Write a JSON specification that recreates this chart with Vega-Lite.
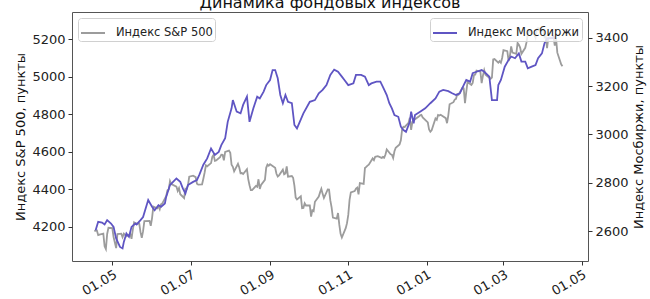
{
"$schema": "https://vega.github.io/schema/vega-lite/v6.json",
"width": 516, "height": 249,
"autosize": {"type": "none"},
"padding": {"left": 72, "top": 12, "right": 62, "bottom": 38},
"background": "white",
"title": {"text": "Динамика фондовых индексов", "fontSize": 16, "font": "DejaVu Sans", "fontWeight": "normal", "color": "#111", "offset": 1, "anchor": "middle"},
"config": {
 "view": {"stroke": "#555", "strokeWidth": 1},
 "axis": {"grid": false, "domain": false, "labelFont": "DejaVu Sans", "labelFontSize": 13, "labelColor": "#222", "tickColor": "#333", "tickSize": 4, "titleFont": "DejaVu Sans", "titleFontSize": 13, "titleFontWeight": "normal", "titleColor": "#111"},
 "legend": {"labelFont": "DejaVu Sans", "labelFontSize": 11.5, "labelColor": "#222", "padding": 2, "fillColor": "rgba(255,255,255,0.8)", "strokeColor": "#d0d0d0", "cornerRadius": 3, "offset": 6, "symbolType": "stroke", "symbolSize": 576, "symbolStrokeWidth": 2, "labelOffset": 10, "title": null}
},
"datasets": {
"sp": [
{"date":"2023-04-17","value":4175},{"date":"2023-04-18","value":4178},{"date":"2023-04-19","value":4179},{"date":"2023-04-20","value":4154},{"date":"2023-04-21","value":4157},{"date":"2023-04-24","value":4162},{"date":"2023-04-25","value":4095},{"date":"2023-04-26","value":4080},{"date":"2023-04-27","value":4160},{"date":"2023-04-28","value":4193},
{"date":"2023-05-01","value":4191},{"date":"2023-05-02","value":4144},{"date":"2023-05-03","value":4115},{"date":"2023-05-04","value":4085},{"date":"2023-05-05","value":4160},{"date":"2023-05-08","value":4162},{"date":"2023-05-09","value":4143},{"date":"2023-05-10","value":4162},{"date":"2023-05-11","value":4155},{"date":"2023-05-12","value":4148},{"date":"2023-05-15","value":4160},{"date":"2023-05-16","value":4134},{"date":"2023-05-17","value":4183},{"date":"2023-05-18","value":4222},{"date":"2023-05-19","value":4216},{"date":"2023-05-22","value":4216},{"date":"2023-05-23","value":4170},{"date":"2023-05-24","value":4140},{"date":"2023-05-25","value":4175},{"date":"2023-05-26","value":4229},{"date":"2023-05-30","value":4230},{"date":"2023-05-31","value":4204},
{"date":"2023-06-01","value":4245},{"date":"2023-06-02","value":4306},{"date":"2023-06-05","value":4297},{"date":"2023-06-06","value":4308},{"date":"2023-06-07","value":4292},{"date":"2023-06-08","value":4318},{"date":"2023-06-09","value":4323},{"date":"2023-06-12","value":4362},{"date":"2023-06-13","value":4393},{"date":"2023-06-14","value":4397},{"date":"2023-06-15","value":4442},{"date":"2023-06-16","value":4426},{"date":"2023-06-20","value":4413},{"date":"2023-06-21","value":4390},{"date":"2023-06-22","value":4405},{"date":"2023-06-23","value":4372},{"date":"2023-06-26","value":4352},{"date":"2023-06-27","value":4402},{"date":"2023-06-28","value":4400},{"date":"2023-06-29","value":4420},{"date":"2023-06-30","value":4466},
{"date":"2023-07-03","value":4471},{"date":"2023-07-05","value":4463},{"date":"2023-07-06","value":4428},{"date":"2023-07-07","value":4423},{"date":"2023-07-10","value":4425},{"date":"2023-07-11","value":4455},{"date":"2023-07-12","value":4488},{"date":"2023-07-13","value":4526},{"date":"2023-07-14","value":4521},{"date":"2023-07-17","value":4538},{"date":"2023-07-18","value":4571},{"date":"2023-07-19","value":4582},{"date":"2023-07-20","value":4550},{"date":"2023-07-21","value":4552},{"date":"2023-07-24","value":4570},{"date":"2023-07-25","value":4583},{"date":"2023-07-26","value":4582},{"date":"2023-07-27","value":4553},{"date":"2023-07-28","value":4598},{"date":"2023-07-31","value":4605},
{"date":"2023-08-01","value":4593},{"date":"2023-08-02","value":4529},{"date":"2023-08-03","value":4518},{"date":"2023-08-04","value":4494},{"date":"2023-08-07","value":4534},{"date":"2023-08-08","value":4515},{"date":"2023-08-09","value":4484},{"date":"2023-08-10","value":4485},{"date":"2023-08-11","value":4480},{"date":"2023-08-14","value":4506},{"date":"2023-08-15","value":4453},{"date":"2023-08-16","value":4420},{"date":"2023-08-17","value":4394},{"date":"2023-08-18","value":4394},{"date":"2023-08-21","value":4416},{"date":"2023-08-22","value":4412},{"date":"2023-08-23","value":4452},{"date":"2023-08-24","value":4400},{"date":"2023-08-25","value":4422},{"date":"2023-08-28","value":4449},{"date":"2023-08-29","value":4513},{"date":"2023-08-30","value":4530},{"date":"2023-08-31","value":4524},
{"date":"2023-09-01","value":4532},{"date":"2023-09-05","value":4513},{"date":"2023-09-06","value":4481},{"date":"2023-09-07","value":4467},{"date":"2023-09-08","value":4473},{"date":"2023-09-11","value":4503},{"date":"2023-09-12","value":4478},{"date":"2023-09-13","value":4483},{"date":"2023-09-14","value":4521},{"date":"2023-09-15","value":4466},{"date":"2023-09-18","value":4469},{"date":"2023-09-19","value":4460},{"date":"2023-09-20","value":4418},{"date":"2023-09-21","value":4354},{"date":"2023-09-22","value":4344},{"date":"2023-09-25","value":4361},{"date":"2023-09-26","value":4298},{"date":"2023-09-27","value":4299},{"date":"2023-09-28","value":4324},{"date":"2023-09-29","value":4312},
{"date":"2023-10-02","value":4312},{"date":"2023-10-03","value":4253},{"date":"2023-10-04","value":4287},{"date":"2023-10-05","value":4282},{"date":"2023-10-06","value":4332},{"date":"2023-10-09","value":4360},{"date":"2023-10-10","value":4382},{"date":"2023-10-11","value":4401},{"date":"2023-10-12","value":4374},{"date":"2023-10-13","value":4352},{"date":"2023-10-16","value":4398},{"date":"2023-10-17","value":4397},{"date":"2023-10-18","value":4339},{"date":"2023-10-19","value":4302},{"date":"2023-10-20","value":4248},{"date":"2023-10-23","value":4242},{"date":"2023-10-24","value":4272},{"date":"2023-10-25","value":4210},{"date":"2023-10-26","value":4161},{"date":"2023-10-27","value":4141},{"date":"2023-10-30","value":4191},{"date":"2023-10-31","value":4218},
{"date":"2023-11-01","value":4262},{"date":"2023-11-02","value":4342},{"date":"2023-11-03","value":4382},{"date":"2023-11-06","value":4389},{"date":"2023-11-07","value":4402},{"date":"2023-11-08","value":4407},{"date":"2023-11-09","value":4371},{"date":"2023-11-10","value":4431},{"date":"2023-11-13","value":4427},{"date":"2023-11-14","value":4512},{"date":"2023-11-15","value":4518},{"date":"2023-11-16","value":4525},{"date":"2023-11-17","value":4530},{"date":"2023-11-20","value":4563},{"date":"2023-11-21","value":4554},{"date":"2023-11-22","value":4572},{"date":"2023-11-24","value":4575},{"date":"2023-11-27","value":4566},{"date":"2023-11-28","value":4571},{"date":"2023-11-29","value":4567},{"date":"2023-11-30","value":4584},
{"date":"2023-12-01","value":4611},{"date":"2023-12-04","value":4585},{"date":"2023-12-05","value":4583},{"date":"2023-12-06","value":4565},{"date":"2023-12-07","value":4601},{"date":"2023-12-08","value":4620},{"date":"2023-12-11","value":4638},{"date":"2023-12-12","value":4660},{"date":"2023-12-13","value":4719},{"date":"2023-12-14","value":4732},{"date":"2023-12-15","value":4731},{"date":"2023-12-18","value":4753},{"date":"2023-12-19","value":4780},{"date":"2023-12-20","value":4715},{"date":"2023-12-21","value":4758},{"date":"2023-12-22","value":4767},{"date":"2023-12-26","value":4787},{"date":"2023-12-27","value":4793},{"date":"2023-12-28","value":4795},{"date":"2023-12-29","value":4782},
{"date":"2024-01-02","value":4755},{"date":"2024-01-03","value":4717},{"date":"2024-01-04","value":4705},{"date":"2024-01-05","value":4713},{"date":"2024-01-08","value":4776},{"date":"2024-01-09","value":4769},{"date":"2024-01-10","value":4795},{"date":"2024-01-11","value":4792},{"date":"2024-01-12","value":4796},{"date":"2024-01-16","value":4778},{"date":"2024-01-17","value":4751},{"date":"2024-01-18","value":4793},{"date":"2024-01-19","value":4852},{"date":"2024-01-22","value":4863},{"date":"2024-01-23","value":4877},{"date":"2024-01-24","value":4881},{"date":"2024-01-25","value":4906},{"date":"2024-01-26","value":4903},{"date":"2024-01-29","value":4940},{"date":"2024-01-30","value":4937},{"date":"2024-01-31","value":4858},
{"date":"2024-02-01","value":4918},{"date":"2024-02-02","value":4971},{"date":"2024-02-05","value":4955},{"date":"2024-02-06","value":4966},{"date":"2024-02-07","value":5007},{"date":"2024-02-08","value":5010},{"date":"2024-02-09","value":5031},{"date":"2024-02-12","value":5026},{"date":"2024-02-13","value":4965},{"date":"2024-02-14","value":5005},{"date":"2024-02-15","value":5034},{"date":"2024-02-16","value":5010},{"date":"2024-02-20","value":4988},{"date":"2024-02-21","value":4994},{"date":"2024-02-22","value":5091},{"date":"2024-02-23","value":5093},{"date":"2024-02-26","value":5074},{"date":"2024-02-27","value":5082},{"date":"2024-02-28","value":5073},{"date":"2024-02-29","value":5100},
{"date":"2024-03-01","value":5141},{"date":"2024-03-04","value":5135},{"date":"2024-03-05","value":5083},{"date":"2024-03-06","value":5109},{"date":"2024-03-07","value":5161},{"date":"2024-03-08","value":5128},{"date":"2024-03-11","value":5121},{"date":"2024-03-12","value":5179},{"date":"2024-03-13","value":5169},{"date":"2024-03-14","value":5154},{"date":"2024-03-15","value":5121},{"date":"2024-03-18","value":5153},{"date":"2024-03-19","value":5183},{"date":"2024-03-20","value":5229},{"date":"2024-03-21","value":5245},{"date":"2024-03-22","value":5238},{"date":"2024-03-25","value":5222},{"date":"2024-03-26","value":5207},{"date":"2024-03-27","value":5252},{"date":"2024-03-28","value":5258},
{"date":"2024-04-01","value":5247},{"date":"2024-04-02","value":5209},{"date":"2024-04-03","value":5215},{"date":"2024-04-04","value":5151},{"date":"2024-04-05","value":5208},{"date":"2024-04-08","value":5206},{"date":"2024-04-09","value":5213},{"date":"2024-04-10","value":5165},{"date":"2024-04-11","value":5203},{"date":"2024-04-12","value":5127},{"date":"2024-04-15","value":5065},{"date":"2024-04-16","value":5055}
],
"moex": [
{"date":"2023-04-18","value":2604},{"date":"2023-04-20","value":2639},{"date":"2023-04-23","value":2636},{"date":"2023-04-25","value":2628},{"date":"2023-04-27","value":2646},{"date":"2023-04-30","value":2632},{"date":"2023-05-02","value":2618},{"date":"2023-05-04","value":2570},{"date":"2023-05-07","value":2535},{"date":"2023-05-09","value":2529},{"date":"2023-05-10","value":2556},{"date":"2023-05-12","value":2591},{"date":"2023-05-14","value":2577},{"date":"2023-05-16","value":2618},{"date":"2023-05-19","value":2632},{"date":"2023-05-20","value":2628},{"date":"2023-05-23","value":2646},{"date":"2023-05-25","value":2659},{"date":"2023-05-29","value":2729},
{"date":"2023-06-01","value":2701},{"date":"2023-06-03","value":2687},{"date":"2023-06-06","value":2708},{"date":"2023-06-08","value":2701},{"date":"2023-06-11","value":2715},{"date":"2023-06-12","value":2742},{"date":"2023-06-15","value":2791},{"date":"2023-06-20","value":2818},{"date":"2023-06-23","value":2804},{"date":"2023-06-25","value":2777},{"date":"2023-06-27","value":2756},{"date":"2023-06-29","value":2791},
{"date":"2023-07-03","value":2804},{"date":"2023-07-06","value":2811},{"date":"2023-07-08","value":2835},{"date":"2023-07-11","value":2875},{"date":"2023-07-14","value":2901},{"date":"2023-07-17","value":2942},{"date":"2023-07-20","value":2915},{"date":"2023-07-23","value":2928},{"date":"2023-07-25","value":2956},{"date":"2023-07-28","value":2984},{"date":"2023-07-30","value":3052},
{"date":"2023-08-02","value":3108},{"date":"2023-08-03","value":3142},{"date":"2023-08-06","value":3094},{"date":"2023-08-09","value":3087},{"date":"2023-08-11","value":3122},{"date":"2023-08-14","value":3156},{"date":"2023-08-16","value":3052},{"date":"2023-08-19","value":3108},{"date":"2023-08-22","value":3156},{"date":"2023-08-24","value":3149},{"date":"2023-08-27","value":3177},{"date":"2023-08-29","value":3204},
{"date":"2023-09-01","value":3225},{"date":"2023-09-03","value":3266},{"date":"2023-09-05","value":3266},{"date":"2023-09-07","value":3232},{"date":"2023-09-09","value":3163},{"date":"2023-09-11","value":3129},{"date":"2023-09-13","value":3163},{"date":"2023-09-15","value":3135},{"date":"2023-09-18","value":3129},{"date":"2023-09-20","value":3039},{"date":"2023-09-22","value":3025},{"date":"2023-09-27","value":3087},
{"date":"2023-10-02","value":3135},{"date":"2023-10-06","value":3142},{"date":"2023-10-09","value":3170},{"date":"2023-10-12","value":3184},{"date":"2023-10-15","value":3204},{"date":"2023-10-18","value":3246},{"date":"2023-10-21","value":3268},{"date":"2023-10-24","value":3259},{"date":"2023-10-27","value":3239},{"date":"2023-10-29","value":3225},
{"date":"2023-11-01","value":3204},{"date":"2023-11-05","value":3211},{"date":"2023-11-07","value":3246},{"date":"2023-11-11","value":3246},{"date":"2023-11-14","value":3239},{"date":"2023-11-17","value":3204},{"date":"2023-11-19","value":3211},{"date":"2023-11-23","value":3218},{"date":"2023-11-26","value":3218},{"date":"2023-11-28","value":3197},
{"date":"2023-12-01","value":3163},{"date":"2023-12-03","value":3129},{"date":"2023-12-05","value":3108},{"date":"2023-12-07","value":3080},{"date":"2023-12-10","value":3073},{"date":"2023-12-12","value":3032},{"date":"2023-12-14","value":3018},{"date":"2023-12-16","value":3011},{"date":"2023-12-19","value":3052},{"date":"2023-12-20","value":3094},{"date":"2023-12-22","value":3046},{"date":"2023-12-23","value":3080},{"date":"2023-12-27","value":3094},{"date":"2023-12-31","value":3108},
{"date":"2024-01-04","value":3129},{"date":"2024-01-08","value":3149},{"date":"2024-01-11","value":3177},{"date":"2024-01-14","value":3184},{"date":"2024-01-18","value":3179},{"date":"2024-01-21","value":3170},{"date":"2024-01-24","value":3163},{"date":"2024-01-27","value":3170},{"date":"2024-01-30","value":3204},
{"date":"2024-02-01","value":3225},{"date":"2024-02-04","value":3218},{"date":"2024-02-06","value":3253},{"date":"2024-02-09","value":3259},{"date":"2024-02-13","value":3266},{"date":"2024-02-15","value":3259},{"date":"2024-02-19","value":3239},{"date":"2024-02-21","value":3142},{"date":"2024-02-25","value":3142},{"date":"2024-02-26","value":3204},{"date":"2024-02-28","value":3225},
{"date":"2024-03-02","value":3280},{"date":"2024-03-05","value":3308},{"date":"2024-03-07","value":3322},{"date":"2024-03-10","value":3315},{"date":"2024-03-13","value":3335},{"date":"2024-03-15","value":3301},{"date":"2024-03-18","value":3301},{"date":"2024-03-20","value":3273},{"date":"2024-03-23","value":3280},{"date":"2024-03-26","value":3287},{"date":"2024-03-28","value":3315},{"date":"2024-03-31","value":3335},
{"date":"2024-04-02","value":3377},{"date":"2024-04-04","value":3397},{"date":"2024-04-08","value":3397},{"date":"2024-04-09","value":3404},{"date":"2024-04-10","value":3395}
]
},
"layer": [
 {
  "data": {"name": "sp"},
  "mark": {"type": "line", "strokeWidth": 1.8},
  "encoding": {
   "x": {"field": "date", "type": "temporal",
         "scale": {"type": "utc", "domain": [{"year": 2023, "month": 3, "date": 30, "hours": 14, "utc": true}, {"year": 2024, "month": 5, "date": 5, "hours": 22, "utc": true}]},
         "axis": {"title": null, "format": "%d.%m", "labelAngle": -30, "labelAlign": "right", "labelBaseline": "top", "labelPadding": 3,
                  "values": [{"year": 2023, "month": 5, "date": 1, "utc": true}, {"year": 2023, "month": 7, "date": 1, "utc": true}, {"year": 2023, "month": 9, "date": 1, "utc": true}, {"year": 2023, "month": 11, "date": 1, "utc": true}, {"year": 2024, "month": 1, "date": 1, "utc": true}, {"year": 2024, "month": 3, "date": 1, "utc": true}, {"year": 2024, "month": 5, "date": 1, "utc": true}]}},
   "y": {"field": "value", "type": "quantitative",
         "scale": {"domain": [4016, 5344], "zero": false, "nice": false},
         "axis": {"orient": "left", "values": [4200, 4400, 4600, 4800, 5000, 5200], "format": "d", "title": "Индекс S&P 500, пункты", "titlePadding": 4, "labelPadding": 3}},
   "color": {"datum": "Индекс S&P 500", "type": "nominal", "scale": {"range": ["#9c9c9c"]}, "legend": {"orient": "top-left"}}
  }
 },
 {
  "data": {"name": "moex"},
  "mark": {"type": "line", "strokeWidth": 1.8},
  "encoding": {
   "x": {"field": "date", "type": "temporal"},
   "y": {"field": "value", "type": "quantitative",
         "scale": {"domain": [2477, 3506], "zero": false, "nice": false},
         "axis": {"orient": "right", "values": [2600, 2800, 3000, 3200, 3400], "format": "d", "title": "Индекс Мосбиржи, пункты", "titleAngle": 270, "titleBaseline": "top", "titlePadding": 4, "labelPadding": 3}},
   "color": {"datum": "Индекс Мосбиржи", "type": "nominal", "scale": {"range": ["#5f55c3"]}, "legend": {"orient": "top-right"}}
  }
 }
],
"resolve": {"scale": {"y": "independent", "color": "independent"}, "legend": {"color": "independent"}}
}
